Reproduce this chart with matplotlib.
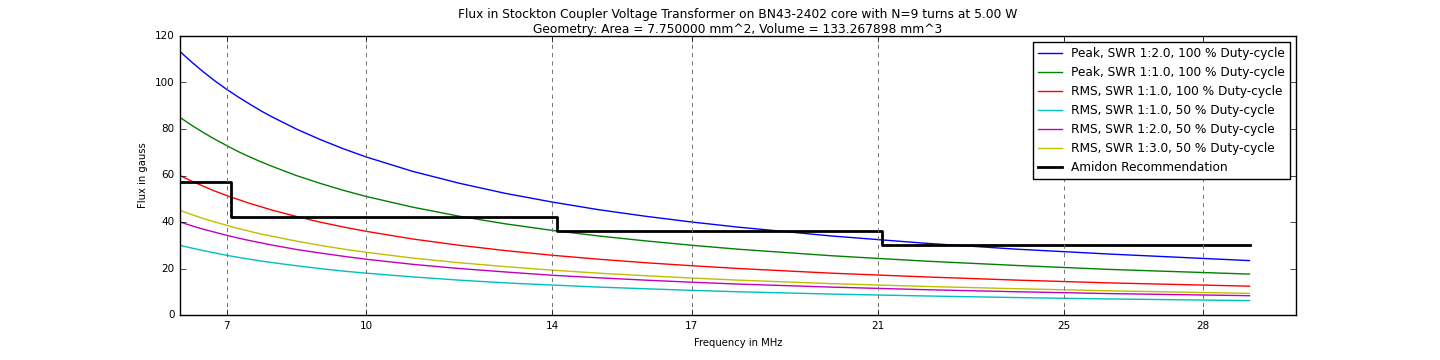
import matplotlib
matplotlib.use('Agg')
import matplotlib.pyplot as plt

# Frecuencias (MHz) y valores de flujo (gauss)
freq = [6, 6.25, 6.5, 6.75, 7, 7.25, 7.5, 7.75, 8, 8.5, 9, 9.5, 10,
        11, 12, 13, 14, 15, 16, 17, 18, 20, 22, 24, 26, 29]

peak_swr2_100 = [113.3, 108.8, 104.6, 100.7, 97.1, 93.8, 90.7, 87.7, 85.0, 80.0,
                 75.6, 71.6, 68.0, 61.8, 56.7, 52.3, 48.6, 45.3, 42.5, 40.0,
                 37.8, 34.0, 30.9, 28.3, 26.2, 23.4]
peak_swr1_100 = [85.0, 81.6, 78.5, 75.6, 72.9, 70.3, 68.0, 65.8, 63.8, 60.0,
                 56.7, 53.7, 51.0, 46.4, 42.5, 39.2, 36.4, 34.0, 31.9, 30.0,
                 28.3, 25.5, 23.2, 21.3, 19.6, 17.6]
rms_swr1_100 = [60.0, 57.6, 55.4, 53.3, 51.4, 49.7, 48.0, 46.5, 45.0, 42.4,
                40.0, 37.9, 36.0, 32.7, 30.0, 27.7, 25.7, 24.0, 22.5, 21.2,
                20.0, 18.0, 16.4, 15.0, 13.8, 12.4]
rms_swr1_50 = [30.0, 28.8, 27.7, 26.7, 25.7, 24.8, 24.0, 23.2, 22.5, 21.2,
               20.0, 18.9, 18.0, 16.4, 15.0, 13.8, 12.9, 12.0, 11.3, 10.6,
               10.0, 9.0, 8.2, 7.5, 6.9, 6.2]
rms_swr2_50 = [40.0, 38.4, 36.9, 35.6, 34.3, 33.1, 32.0, 31.0, 30.0, 28.2,
               26.7, 25.3, 24.0, 21.8, 20.0, 18.5, 17.1, 16.0, 15.0, 14.1,
               13.3, 12.0, 10.9, 10.0, 9.2, 8.3]
rms_swr3_50 = [45.0, 43.2, 41.5, 40.0, 38.6, 37.2, 36.0, 34.8, 33.8, 31.8,
               30.0, 28.4, 27.0, 24.5, 22.5, 20.8, 19.3, 18.0, 16.9, 15.9,
               15.0, 13.5, 12.3, 11.3, 10.4, 9.3]

# Recomendacion Amidon (escalones)
amidon_f = [6, 7.1, 14.1, 21.1, 29]
amidon_flux = [57, 42, 36, 30, 30]

band_ticks = [7, 10, 14, 17, 21, 25, 28]

plt.style.use('classic')
fig = plt.figure(figsize=(14.4, 3.6), dpi=100, facecolor='white')
ax = fig.add_axes([0.125, 0.125, 0.775, 0.775])

ax.plot(freq, peak_swr2_100, 'b-', label='Peak, SWR 1:2.0, 100 % Duty-cycle')
ax.plot(freq, peak_swr1_100, 'g-', label='Peak, SWR 1:1.0, 100 % Duty-cycle')
ax.plot(freq, rms_swr1_100, 'r-', label='RMS, SWR 1:1.0, 100 % Duty-cycle')
ax.plot(freq, rms_swr1_50, 'c-', label='RMS, SWR 1:1.0, 50 % Duty-cycle')
ax.plot(freq, rms_swr2_50, 'm-', label='RMS, SWR 1:2.0, 50 % Duty-cycle')
ax.plot(freq, rms_swr3_50, 'y-', label='RMS, SWR 1:3.0, 50 % Duty-cycle')
ax.plot(amidon_f, amidon_flux, 'k-', linewidth=2, drawstyle='steps-post',
        label='Amidon Recommendation')

ax.set_xlim(6, 30)
ax.set_ylim(0, 120)
ax.set_xticks(band_ticks)
ax.set_yticks(range(0, 121, 20))
ax.tick_params(labelsize=7.5)
ax.xaxis.grid(True, linestyle=(0, (3, 3)), color='0.45', linewidth=0.7)
ax.set_xlabel('Frequency in MHz', fontsize=7.2)
ax.set_ylabel('Flux in gauss', fontsize=7.2)
ax.set_title('Flux in Stockton Coupler Voltage Transformer on BN43-2402 core with N=9 turns at 5.00 W\n'
             'Geometry: Area = 7.750000 mm^2, Volume = 133.267898 mm^3', fontsize=8.8, pad=2)
ax.legend(loc='upper right', fontsize=8.7, numpoints=1)

fig.savefig('out.png', dpi=100, facecolor='white')
